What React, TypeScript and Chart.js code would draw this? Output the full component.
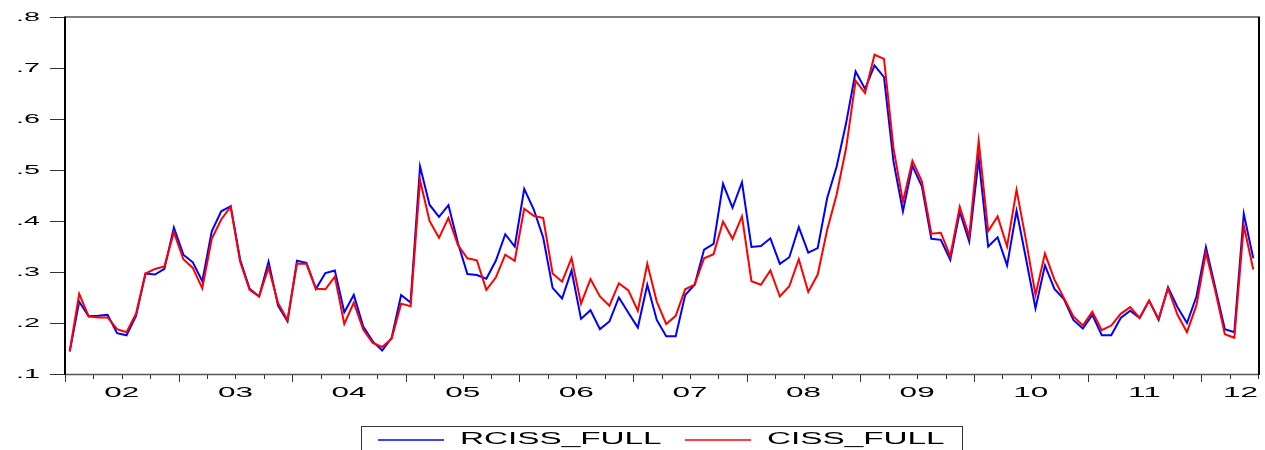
import React, { useEffect, useRef } from 'react';
import { Chart, registerables } from 'chart.js';

Chart.register(...registerables);

// Monthly observations, 2002M01 .. 2012M06
const rcissFull = [
  0.144, 0.242, 0.213, 0.214, 0.216, 0.180, 0.176, 0.214, 0.297, 0.295, 0.306, 0.387,
  0.334, 0.319, 0.282, 0.380, 0.419, 0.429, 0.324, 0.267, 0.252, 0.320, 0.234, 0.203,
  0.322, 0.318, 0.267, 0.298, 0.303, 0.221, 0.255, 0.193, 0.164, 0.146, 0.171, 0.255,
  0.240, 0.507, 0.432, 0.408, 0.431, 0.357, 0.296, 0.294, 0.287, 0.322, 0.374, 0.350,
  0.463, 0.423, 0.368, 0.269, 0.248, 0.303, 0.208, 0.225, 0.188, 0.203, 0.250, 0.220,
  0.191, 0.275, 0.206, 0.174, 0.174, 0.255, 0.275, 0.344, 0.355, 0.473, 0.426, 0.476,
  0.349, 0.351, 0.366, 0.316, 0.329, 0.388, 0.338, 0.347, 0.445, 0.507, 0.592, 0.693,
  0.659, 0.705, 0.682, 0.517, 0.419, 0.508, 0.468, 0.365, 0.363, 0.324, 0.418, 0.360,
  0.522, 0.350, 0.368, 0.313, 0.420, 0.326, 0.229, 0.313, 0.267, 0.247, 0.206, 0.189,
  0.216, 0.176, 0.176, 0.210, 0.224, 0.210, 0.244, 0.206, 0.270, 0.231, 0.200, 0.252,
  0.349, 0.268, 0.188, 0.182, 0.414, 0.327,
];

const cissFull = [
  0.145, 0.257, 0.213, 0.211, 0.211, 0.188, 0.182, 0.218, 0.297, 0.306, 0.311, 0.378,
  0.325, 0.308, 0.268, 0.365, 0.403, 0.428, 0.320, 0.265, 0.252, 0.309, 0.239, 0.206,
  0.316, 0.316, 0.267, 0.266, 0.291, 0.198, 0.240, 0.187, 0.161, 0.153, 0.169, 0.238,
  0.233, 0.480, 0.400, 0.367, 0.406, 0.353, 0.327, 0.323, 0.265, 0.289, 0.334, 0.322,
  0.424, 0.410, 0.406, 0.297, 0.281, 0.327, 0.238, 0.286, 0.252, 0.234, 0.278, 0.264,
  0.224, 0.316, 0.242, 0.198, 0.214, 0.266, 0.275, 0.327, 0.335, 0.399, 0.365, 0.409,
  0.282, 0.275, 0.303, 0.252, 0.272, 0.325, 0.261, 0.295, 0.383, 0.452, 0.543, 0.675,
  0.651, 0.726, 0.718, 0.543, 0.438, 0.518, 0.478, 0.375, 0.377, 0.331, 0.428, 0.370,
  0.557, 0.380, 0.409, 0.350, 0.461, 0.362, 0.255, 0.336, 0.285, 0.249, 0.213, 0.195,
  0.222, 0.186, 0.195, 0.218, 0.231, 0.210, 0.244, 0.208, 0.268, 0.216, 0.182, 0.235,
  0.338, 0.262, 0.178, 0.171, 0.391, 0.305,
];

const seriesNames = ['RCISS_FULL', 'CISS_FULL'];
const yearLabels = ['02', '03', '04', '05', '06', '07', '08', '09', '10', '11', '12'];
const yTickValues = [0.1, 0.2, 0.3, 0.4, 0.5, 0.6, 0.7, 0.8];
const yTickLabels = ['.1', '.2', '.3', '.4', '.5', '.6', '.7', '.8'];

const FONT = '"Liberation Sans", Arial, sans-serif';

function stretchText(
  ctx: CanvasRenderingContext2D,
  s: string,
  x: number,
  y: number,
  size: number,
  sx: number,
  align: CanvasTextAlign
) {
  ctx.save();
  ctx.font = `${size}px ${FONT}`;
  ctx.textAlign = align;
  ctx.textBaseline = 'middle';
  ctx.fillStyle = '#000';
  ctx.translate(x, y);
  ctx.scale(sx, 1);
  ctx.fillText(s, 0, 0);
  ctx.restore();
}

function textWidth(ctx: CanvasRenderingContext2D, s: string, size: number, sx: number) {
  ctx.save();
  ctx.font = `${size}px ${FONT}`;
  const w = ctx.measureText(s).width * sx;
  ctx.restore();
  return w;
}

const eviewsFrame = {
  id: 'eviewsFrame',
  afterDraw(chart: any) {
    const ctx: CanvasRenderingContext2D = chart.ctx;
    const a = chart.chartArea;
    const xs = chart.scales.x;
    const ys = chart.scales.y;
    ctx.save();

    // y ticks + labels
    ctx.strokeStyle = '#333';
    ctx.lineWidth = 1;
    yTickValues.forEach((v, i) => {
      const py = Math.round(ys.getPixelForValue(v)) + 0.5;
      ctx.beginPath();
      ctx.moveTo(50, py);
      ctx.lineTo(a.left, py);
      ctx.stroke();
      stretchText(ctx, yTickLabels[i], 40, py, 12.5, 2.3, 'right');
    });

    // x ticks (quarterly, long at year boundaries)
    const nMonths = rcissFull.length;
    for (let m = 0; m <= nMonths; m += 3) {
      const px = Math.round(xs.getPixelForValue(m)) + 0.5;
      const long = m % 12 === 0;
      ctx.beginPath();
      ctx.moveTo(px, a.bottom);
      ctx.lineTo(px, a.bottom + (long ? 8 : 5));
      ctx.stroke();
    }

    // x labels centered on years
    yearLabels.forEach((lab, k) => {
      let cx = xs.getPixelForValue(12 * k + 6);
      const w = textWidth(ctx, lab, 14, 2.25);
      if (cx + w / 2 > a.right) cx = a.right - w / 2;
      stretchText(ctx, lab, cx, 393, 14, 2.25, 'center');
    });

    // frame
    ctx.strokeStyle = '#555';
    ctx.lineWidth = 1.5;
    ctx.beginPath();
    ctx.moveTo(a.left, a.top);
    ctx.lineTo(a.right, a.top);
    ctx.moveTo(a.left, a.bottom + 0.5);
    ctx.lineTo(a.right, a.bottom + 0.5);
    ctx.stroke();
    ctx.strokeStyle = '#000';
    ctx.lineWidth = 2;
    ctx.beginPath();
    ctx.moveTo(a.left, a.top - 0.5);
    ctx.lineTo(a.left, a.bottom + 1);
    ctx.moveTo(a.right + 1, a.top - 0.5);
    ctx.lineTo(a.right + 1, a.bottom + 1);
    ctx.stroke();

    // legend box
    ctx.strokeStyle = '#333';
    ctx.lineWidth = 1;
    ctx.strokeRect(361.5, 426.5, 601, 40);
    const legendColors = ['#0000ff', '#ff0000'];
    const legendX = [378, 685];
    seriesNames.forEach((name, i) => {
      ctx.strokeStyle = legendColors[i];
      ctx.lineWidth = 1.5;
      ctx.beginPath();
      ctx.moveTo(legendX[i], 440);
      ctx.lineTo(legendX[i] + 66, 440);
      ctx.stroke();
      stretchText(ctx, name, legendX[i] + 82, 439.5, 16, 2.08, 'left');
    });

    ctx.restore();
  },
};

export default function App() {
  const canvasRef = useRef<HTMLCanvasElement | null>(null);

  useEffect(() => {
    if (!canvasRef.current) return;
    const toPoints = (arr: number[]) => arr.map((v, i) => ({ x: i + 0.5, y: v }));
    const chart = new Chart(canvasRef.current, {
      type: 'line',
      data: {
        datasets: [
          {
            label: seriesNames[0],
            data: toPoints(rcissFull),
            borderColor: '#0000ff',
            borderWidth: 2,
            pointRadius: 0,
            tension: 0,
            fill: false,
            order: 2,
          },
          {
            label: seriesNames[1],
            data: toPoints(cissFull),
            borderColor: '#ff0000',
            borderWidth: 2,
            pointRadius: 0,
            tension: 0,
            fill: false,
            order: 1,
          },
        ],
      },
      options: {
        animation: false,
        responsive: false,
        devicePixelRatio: 1,
        layout: { padding: { left: 65, top: 17, right: 7, bottom: 76 } },
        scales: {
          x: { type: 'linear', min: 0, max: rcissFull.length, display: false },
          y: { type: 'linear', min: 0.1, max: 0.8, display: false },
        },
        plugins: {
          legend: { display: false },
          tooltip: { enabled: false },
        },
      },
      plugins: [eviewsFrame],
    });
    return () => chart.destroy();
  }, []);

  return (
    <div style={{ position: 'absolute', left: 0, top: 0, width: 1265, height: 450, background: '#fff' }}>
      <canvas ref={canvasRef} width={1265} height={450} style={{ display: 'block' }} />
    </div>
  );
}
